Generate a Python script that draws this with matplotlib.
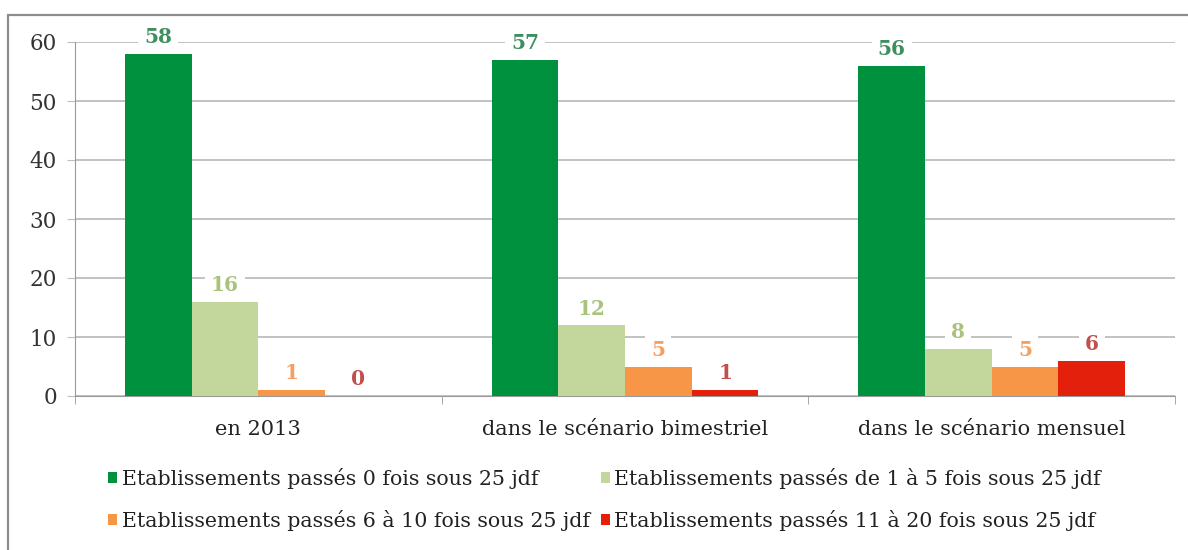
import matplotlib.pyplot as plt
import matplotlib.patches as ptc
import numpy as np

plt.rcParams['font.family'] = ['DejaVu Serif']

categories = ['en 2013', 'dans le scénario bimestriel', 'dans le scénario mensuel']
series_names = ['Etablissements passés 0 fois sous 25 jdf',
                'Etablissements passés de 1 à 5 fois sous 25 jdf',
                'Etablissements passés 6 à 10 fois sous 25 jdf',
                'Etablissements passés 11 à 20 fois sous 25 jdf']
passe_0 = [58, 57, 56]
passe_1_5 = [16, 12, 8]
passe_6_10 = [1, 5, 5]
passe_11_20 = [0, 1, 6]

series = [passe_0, passe_1_5, passe_6_10, passe_11_20]
bar_colors = ['#00913e', '#c3d69b', '#f79646', '#e2200c']
label_colors = ['#3d8f5e', '#a9c27c', '#f3a064', '#c0504d']

fig = plt.figure(figsize=(11.88, 5.5), dpi=100)
ax = fig.add_axes([75 / 1188, 1 - 396 / 550, 1100 / 1188, 354 / 550])

x = np.arange(len(categories))
w = 0.182
offsets = [-1.5, -0.5, 0.5, 1.5]
handles = []
for vals, off, col, lcol, name in zip(series, offsets, bar_colors, label_colors, series_names):
    bars = ax.bar(x + off * w, vals, w, color=col, label=name, zorder=3)
    handles.append(bars)
    for b, v in zip(bars, vals):
        ax.annotate(str(v), (b.get_x() + b.get_width() / 2, v), xytext=(0, 12),
                    textcoords='offset points', ha='center', va='center',
                    fontsize=14.5, fontweight='bold', color=lcol, zorder=5,
                    bbox=dict(boxstyle='square,pad=0.3', fc='white', ec='none'),
                    annotation_clip=False)

ax.set_xlim(-0.5, 2.5)
ax.set_ylim(0, 60)
ax.set_yticks(range(0, 61, 10))
ax.yaxis.grid(True, color='#bdbdbd', linewidth=1.3, zorder=0)
ax.set_xticks(x)
ax.set_xticklabels(categories)
ax.set_xticks([-0.5, 0.5, 1.5, 2.5], minor=True)
ax.tick_params(axis='x', which='major', length=0, pad=17, labelsize=15, labelcolor='#222222')
ax.tick_params(axis='x', which='minor', length=6, color='#9a9a9a')
ax.tick_params(axis='y', length=6, color='#bdbdbd', pad=7, labelsize=15.5, labelcolor='#333333')
for s in ['top', 'right']:
    ax.spines[s].set_visible(False)
ax.spines['left'].set_color('#9a9a9a')
ax.spines['bottom'].set_color('#9a9a9a')
ax.set_axisbelow(True)

# legend filled row by row like the original
order = [0, 2, 1, 3]
leg = fig.legend([handles[i] for i in order], [series_names[i] for i in order],
                 loc='upper left', bbox_to_anchor=(100 / 1188, 1 - 460 / 550), ncol=2,
                 frameon=False, fontsize=14.8, handlelength=0.45, handleheight=0.45,
                 handletextpad=0.2, columnspacing=0.55, labelspacing=1.02, borderaxespad=0,
                 labelcolor='#222222')

# chart frame
fig.patches.append(ptc.Rectangle((8 / 1188, -0.1), 1.2, 1.1 - 15 / 550,
                                 transform=fig.transFigure, fill=False,
                                 edgecolor='#8c8c8c', linewidth=1.6))

fig.savefig('out.png', dpi=100)
